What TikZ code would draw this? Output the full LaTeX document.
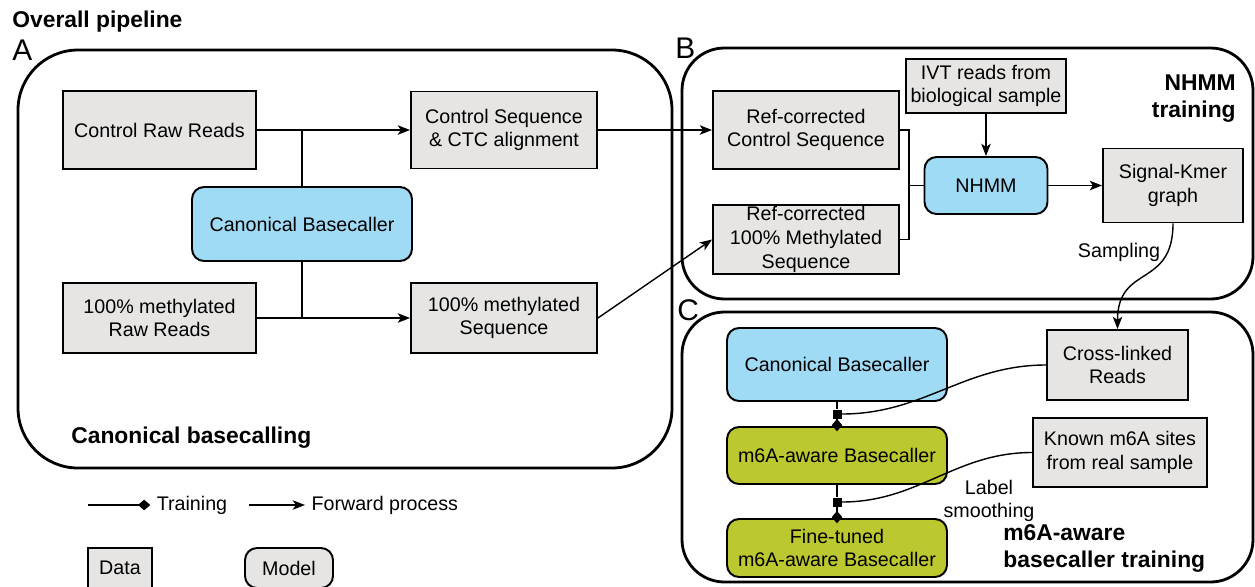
\documentclass[tikz,border=0pt]{standalone}
\usepackage{fontspec}
\setmainfont{Liberation Sans}
\usetikzlibrary{arrows.meta}

\definecolor{datagray}{RGB}{230,229,228}
\definecolor{modelblue}{RGB}{160,219,246}
\definecolor{modelgreen}{RGB}{188,200,48}

\tikzset{
  databox/.style={draw, line width=1.1pt, fill=datagray, align=center, inner sep=1pt},
  modelbox/.style={databox, rounded corners=0.24cm},
  panel/.style={line width=1.6pt, rounded corners=#1},
  wire/.style={line width=0.8pt},
  fwd/.style={wire, -{Stealth[length=7pt,width=5.4pt,inset=1.8pt]}},
  train/.style={wire, -{Diamond[length=7pt,width=6pt]}, shorten >=-3pt},
  junc/.style={fill=black, inner sep=0pt, minimum size=0.18cm},
  heading/.style={font=\fontsize{13}{15.5}\selectfont\bfseries, inner sep=0pt},
  letter/.style={font=\fontsize{17}{17}\selectfont, inner sep=0pt}
}

\begin{document}
\begin{tikzpicture}[x=0.02cm, y=-0.02cm, font=\fontsize{11.2}{13.5}\selectfont]
  \useasboundingbox (0,0) rectangle (1255,586);

  % kopf und rahmen der drei teile
  \node[heading, anchor=base west] (ttl) at (12,27) {Overall pipeline};
  \draw[panel=1.2cm] (18,50) rectangle (672,468);
  \draw[panel=0.85cm] (682,48) rectangle (1253,299);
  \draw[panel=0.85cm] (682,312) rectangle (1253,582);
  \node[letter, anchor=base west] (labA) at (12,60) {A};
  \node[letter, anchor=base west] (labB) at (675,58) {B};
  \node[letter, anchor=base west] (labC) at (677,320) {C};

  % A: kanonisches basecalling
  \node[databox, minimum width=3.86cm, minimum height=1.56cm] (ctlraw) at (159.5,130) {Control Raw Reads};
  \node[databox, minimum width=3.72cm, minimum height=1.54cm] (ctlseq) at (504,130) {Control Sequence\\\& CTC alignment};
  \node[modelbox, fill=modelblue, minimum width=4.4cm, minimum height=1.48cm] (canbc) at (302,224) {Canonical Basecaller};
  \node[databox, minimum width=3.86cm, minimum height=1.4cm] (methraw) at (159.5,318) {100\% methylated\\Raw Reads};
  \node[databox, minimum width=3.72cm, minimum height=1.4cm] (methseq) at (504,318) {100\% methylated\\Sequence};
  \node[heading, anchor=base west] (capA) at (71,443) {Canonical basecalling};

  \draw[fwd] (ctlraw) -- (ctlseq);
  \draw[wire] (canbc) -- (canbc |- ctlraw);
  \draw[fwd] (methraw) -- (methseq);
  \draw[wire] (canbc) -- (canbc |- methraw);

  % B: NHMM training
  \node[databox, minimum width=3.72cm, minimum height=1.56cm] (refctl) at (806,130) {Ref-corrected\\Control Sequence};
  \node[databox, minimum width=3.72cm, minimum height=1.38cm, inner ysep=0pt] (refmeth) at (806,239.5) {Ref-corrected\\100\% Methylated\\Sequence};
  \node[databox, minimum width=3.2cm, minimum height=1.08cm] (ivt) at (986,86) {IVT reads from\\biological sample};
  \node[modelbox, fill=modelblue, minimum width=2.46cm, minimum height=1.14cm] (nhmm) at (986,185.5) {NHMM};
  \node[databox, minimum width=2.8cm, minimum height=1.48cm] (kmer) at (1173,185.5) {Signal-Kmer\\graph};
  \node[heading, align=right, anchor=north east] (capB) at (1236,74) {NHMM\\training};
  \coordinate (mrg) at (909,185.5);

  \draw[fwd] (ctlseq) -- (refctl);
  \draw[fwd] (methseq.east) -- (refmeth.west);
  \draw[wire] (refctl.east) -| (mrg) |- (refmeth.east);
  \draw[wire] (mrg) -- (nhmm);
  \draw[fwd] (ivt) -- (nhmm);
  \draw[fwd] (nhmm) -- (kmer);

  % C: m6A-bewusster basecaller
  \node[modelbox, fill=modelblue, minimum width=4.4cm, minimum height=1.46cm] (canbc2) at (837,364.5) {Canonical Basecaller};
  \node[modelbox, fill=modelgreen, minimum width=4.4cm, minimum height=1.14cm] (m6abc) at (837,455.5) {m6A-aware Basecaller};
  \node[modelbox, fill=modelgreen, minimum width=4.4cm, minimum height=1.16cm] (finebc) at (837,548) {Fine-tuned\\m6A-aware Basecaller};
  \node[databox, minimum width=2.82cm, minimum height=1.4cm] (xlink) at (1117.5,365) {Cross-linked\\Reads};
  \node[databox, minimum width=3.48cm, minimum height=1.38cm] (known) at (1120,452.5) {Known m6A sites\\from real sample};
  \node[align=center] (lsm) at (989,501) {Label\\smoothing};
  \node[align=center] (smp) at (1119,252) {Sampling};
  \node[heading, align=left, anchor=north west] (capC) at (1003,524) {m6A-aware\\basecaller training};
  \node[junc] (jn1) at (837,414) {};
  \node[junc] (jn2) at (837,502) {};

  \draw[fwd] (kmer.south) to[out=-90, in=90, looseness=1.4] (xlink.north);
  \draw[wire] (canbc2) -- (jn1);
  \draw[train] (jn1) -- (m6abc);
  \draw[wire] (xlink.west) to[out=180, in=0] (jn1.east);
  \draw[wire] (m6abc) -- (jn2);
  \draw[train] (jn2) -- (finebc);
  \draw[wire] (known.west) to[out=180, in=0] (jn2.east);

  % legende
  \coordinate (lt0) at (88,505);
  \coordinate (lt1) at (145,505);
  \coordinate (lf0) at (249,505);
  \coordinate (lf1) at (305,505);
  \draw[train] (lt0) -- (lt1) node[right, xshift=3pt] (ltrain) {Training};
  \draw[fwd] (lf0) -- (lf1) node[right] (lforward) {Forward process};
  \node[databox, minimum width=1.28cm, minimum height=0.8cm] (lgdata) at (120,568) {Data};
  \node[modelbox, minimum width=1.76cm, minimum height=0.8cm] (lgmodel) at (289,568) {Model};
\end{tikzpicture}
\end{document}
